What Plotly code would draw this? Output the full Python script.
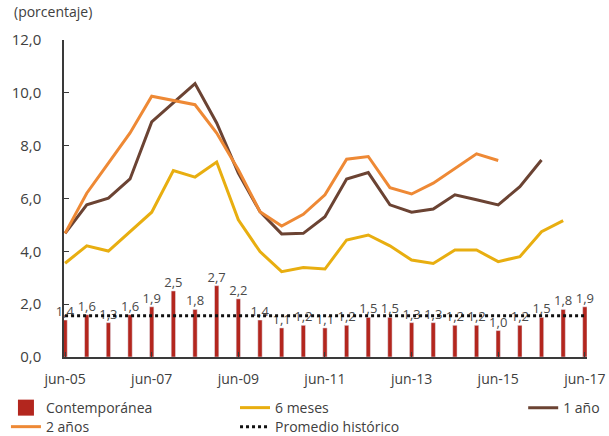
import plotly.graph_objects as go

periodos = [
    "jun-05", "dic-05", "jun-06", "dic-06", "jun-07", "dic-07", "jun-08", "dic-08",
    "jun-09", "dic-09", "jun-10", "dic-10", "jun-11", "dic-11", "jun-12", "dic-12",
    "jun-13", "dic-13", "jun-14", "dic-14", "jun-15", "dic-15", "jun-16", "dic-16",
    "jun-17",
]
contemporanea = [1.4, 1.6, 1.3, 1.6, 1.9, 2.5, 1.8, 2.7, 2.2, 1.4, 1.1, 1.2, 1.1,
                 1.2, 1.5, 1.5, 1.3, 1.3, 1.2, 1.2, 1.0, 1.2, 1.5, 1.8, 1.9]
seis_meses = [3.55, 4.21, 4.01, 4.74, 5.48, 7.06, 6.81, 7.38, 5.19, 3.99, 3.23, 3.39,
              3.33, 4.43, 4.62, 4.21, 3.67, 3.54, 4.05, 4.05, 3.61, 3.80, 4.74, 5.16]
un_ano = [4.68, 5.76, 6.01, 6.74, 8.90, 9.62, 10.35, 8.86, 6.96, 5.50, 4.66, 4.68,
          5.31, 6.74, 6.98, 5.76, 5.48, 5.60, 6.14, 5.95, 5.76, 6.45, 7.46]
dos_anos = [4.68, 6.20, 7.34, 8.48, 9.87, 9.72, 9.55, 8.48, 7.09, 5.50, 4.96, 5.40,
            6.14, 7.49, 7.59, 6.41, 6.17, 6.58, 7.15, 7.69, 7.44]
promedio = 1.56
ticks_x = ["jun-05", "jun-07", "jun-09", "jun-11", "jun-13", "jun-15", "jun-17"]

font = "'Open Sans', sans-serif"
gris = "#404040"
rojo = "#b3261e"

fig = go.Figure()
fig.add_trace(go.Bar(
    x=periodos, y=contemporanea, name="Contemporánea", width=0.2,
    marker_color=rojo, texttemplate="%{y:.1f}", textposition="outside",
    constraintext="none", textfont=dict(size=13, color="#4a4a4a"),
    cliponaxis=False, showlegend=False,
))
# entrada de leyenda con cuadrado grande
fig.add_trace(go.Scatter(
    x=[None], y=[None], mode="markers", name="Contemporánea",
    marker=dict(symbol="square", size=16, color=rojo), legend="legend",
))
fig.add_trace(go.Scatter(
    x=periodos[:len(seis_meses)], y=seis_meses, mode="lines", name="6 meses",
    line=dict(color="#e8ae10", width=3), legend="legend2",
))
fig.add_trace(go.Scatter(
    x=periodos[:len(un_ano)], y=un_ano, mode="lines", name="1 año",
    line=dict(color="#6b4333", width=3), legend="legend3",
))
fig.add_trace(go.Scatter(
    x=periodos[:len(dos_anos)], y=dos_anos, mode="lines", name="2 años",
    line=dict(color="#ee8935", width=3), legend="legend4",
))
fig.add_trace(go.Scatter(
    x=[periodos[0], periodos[-1]], y=[promedio, promedio], mode="lines",
    name="Promedio histórico", line=dict(color="#111111", width=3, dash="dot"),
    legend="legend5",
))

leg = dict(font=dict(family=font, size=14, color=gris), bgcolor="rgba(0,0,0,0)",
           yanchor="middle", xanchor="left")
fig.update_layout(
    width=609, height=436,
    margin=dict(l=64, r=22, t=40, b=79, autoexpand=False),
    plot_bgcolor="white", paper_bgcolor="white",
    separators=",.", showlegend=True,
    font=dict(family=font, size=14, color=gris),
    legend=dict(leg, x=-0.111, y=-0.161),
    legend2=dict(leg, x=0.327, y=-0.161),
    legend3=dict(leg, x=0.878, y=-0.161),
    legend4=dict(leg, x=-0.111, y=-0.221),
    legend5=dict(leg, x=0.327, y=-0.221),
    annotations=[dict(text="(porcentaje)", xref="paper", yref="paper", x=-0.1,
                      y=1.055, xanchor="left", yanchor="bottom", showarrow=False,
                      font=dict(family=font, size=14, color=gris))],
)
fig.update_xaxes(
    type="category", range=[-0.05, 24.1], tickvals=ticks_x, ticktext=ticks_x,
    showline=True, linecolor="#3a3a3a", linewidth=1.5, ticks="inside",
    ticklen=5, tickcolor="#3a3a3a", showgrid=False, ticklabelstandoff=8,
    tickfont=dict(family=font, size=14, color=gris),
)
fig.update_yaxes(
    range=[0, 12], dtick=2, tickformat=".1f", showline=True, linecolor="#3a3a3a",
    linewidth=1.5, ticks="inside", ticklen=5, tickcolor="#3a3a3a", showgrid=False,
    zeroline=False, ticklabelstandoff=18,
    tickfont=dict(family=font, size=15, color=gris),
)

fig.write_html("out.html", config={"displayModeBar": False},
               post_script="document.body.style.margin='0';")
